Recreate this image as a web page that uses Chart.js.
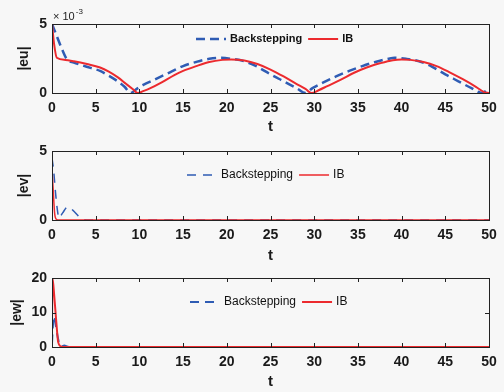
<!DOCTYPE html>
<html>
<head>
<meta charset="utf-8">
<script src="https://cdn.jsdelivr.net/npm/chart.js@4.4.0/dist/chart.umd.min.js"></script>
<style>
  html, body { margin: 0; padding: 0; background: #f7f7f7; }
  #wrap { position: relative; width: 504px; height: 392px; overflow: hidden; }
  canvas { position: absolute; left: 0; }
</style>
</head>
<body>
<div id="wrap">
  <canvas id="chartU" width="504" height="136" style="top:0px"></canvas>
  <canvas id="chartV" width="504" height="137" style="top:128px"></canvas>
  <canvas id="chartW" width="504" height="135" style="top:256px"></canvas>
</div>
<script>
// |eu| (x 10^-3)
const tEuBack = [0, 0.5, 1, 1.7, 2.5, 3.5, 4.5, 5.5, 6.5, 7.5, 8.3, 9, 9.7, 10.5, 11.5, 12.5, 13.5, 15, 16.5, 18, 19.2, 20.5, 22, 23.5, 25, 26.5, 28, 29, 29.8, 31, 32.5, 34, 35.5, 37, 38.5, 39.2, 40.5, 42, 43.5, 45, 46.5, 48, 49.2, 50];
const euBack  = [5.0, 4.2, 3.4, 2.45, 2.2, 2.0, 1.8, 1.6, 1.25, 0.85, 0.45, 0.0, 0.3, 0.6, 0.9, 1.2, 1.5, 1.95, 2.25, 2.48, 2.55, 2.48, 2.3, 1.9, 1.35, 0.85, 0.35, 0.0, 0.35, 0.75, 1.2, 1.6, 1.95, 2.25, 2.48, 2.55, 2.48, 2.3, 1.9, 1.35, 0.85, 0.35, 0.0, 0.35];
const tEuIB = [0, 0.25, 0.55, 1.5, 2.5, 4, 5.5, 6.5, 7.5, 8.5, 9.3, 9.8, 10.5, 11.2, 12.5, 14, 15, 16.5, 18, 19.5, 20.5, 22, 23.5, 25, 26.5, 28, 29, 29.7, 30.5, 31.5, 33, 34.5, 36, 37.5, 39, 40, 41, 42.5, 44, 45.5, 47, 48.5, 49.5, 50];
const euIB  = [5.0, 3.5, 2.55, 2.4, 2.3, 2.1, 1.85, 1.55, 1.15, 0.65, 0.25, 0.0, 0.15, 0.33, 0.75, 1.3, 1.6, 1.95, 2.25, 2.4, 2.43, 2.35, 2.1, 1.7, 1.2, 0.65, 0.3, 0.0, 0.2, 0.5, 0.95, 1.45, 1.85, 2.15, 2.38, 2.43, 2.4, 2.25, 1.95, 1.5, 1.0, 0.45, 0.05, 0.0];

// |ev|
const tEvBack = [0, 0.2, 0.4, 0.6, 0.8, 1.2, 1.8, 2.4, 3, 3.5, 4, 50];
const evBack  = [4.5, 3.5, 2.0, 0.8, 0.15, 0.5, 0.95, 0.7, 0.3, 0.05, 0, 0];
const tEvIB = [0, 0.15, 0.3, 0.5, 0.8, 50];
const evIB  = [3.7, 2.0, 0.5, 0.05, 0, 0];

// |ew|
const tEwBack = [0, 0.1, 0.25, 0.45, 0.65, 0.85, 1.1, 1.4, 1.8, 2.2, 50];
const ewBack  = [1, 6, 9, 6, 3, 0.8, 0.2, 0.4, 0.1, 0, 0];
const tEwIB = [0, 0.05, 0.25, 0.5, 0.7, 1.0, 1.5, 50];
const ewIB  = [6, 20, 15, 7, 1.5, 0.2, 0, 0];

const seriesNames = ['Backstepping', 'IB'];
const xTickStep = 5;

const pts = (t, v) => t.map((x, i) => ({ x: x, y: v[i] }));

const frameTicks = {
    id: 'frameTicks',
    afterDatasetsDraw(chart, args, opts) {
        const ctx = chart.ctx;
        const a = chart.chartArea;
        const xs = chart.scales.x, ys = chart.scales.y;
        ctx.save();
        ctx.strokeStyle = '#222';
        ctx.lineWidth = 1;
        ctx.setLineDash([]);
        ctx.strokeRect(Math.round(a.left) + 0.5, Math.round(a.top) + 0.5, Math.round(a.right - a.left), Math.round(a.bottom - a.top));
        ctx.beginPath();
        xs.ticks.forEach(t => {
            const px = Math.round(xs.getPixelForValue(t.value)) + 0.5;
            if (px <= a.left + 2 || px >= a.right - 2) return;
            ctx.moveTo(px, a.bottom); ctx.lineTo(px, a.bottom - 4);
            ctx.moveTo(px, a.top); ctx.lineTo(px, a.top + 4);
        });
        ys.ticks.forEach(t => {
            const py = Math.round(ys.getPixelForValue(t.value)) + 0.5;
            if (py <= a.top + 2 || py >= a.bottom - 2) return;
            ctx.moveTo(a.left, py); ctx.lineTo(a.left + 4, py);
            ctx.moveTo(a.right, py); ctx.lineTo(a.right - 4, py);
        });
        ctx.stroke();

        // legend inside the axes
        let x = opts.legendX;
        const y = opts.legendY;
        ctx.font = opts.legendFont;
        ctx.textBaseline = 'middle';
        ctx.fillStyle = '#111';
        chart.data.datasets.forEach(ds => {
            ctx.strokeStyle = ds.borderColor;
            ctx.lineWidth = ds.borderWidth;
            ctx.setLineDash(ds.borderDash || []);
            ctx.beginPath();
            ctx.moveTo(x, y); ctx.lineTo(x + 30, y);
            ctx.stroke();
            x += 34;
            ctx.fillText(ds.label, x, y);
            x += ctx.measureText(ds.label).width + 6;
        });

        if (opts.exponent) {
            ctx.fillStyle = '#222';
            ctx.textBaseline = 'alphabetic';
            ctx.font = '11px "Liberation Sans", Arial, sans-serif';
            const base = '\u00d7 10';
            ctx.fillText(base, a.left + 1, a.top - 4);
            const w = ctx.measureText(base).width;
            ctx.font = '8px "Liberation Sans", Arial, sans-serif';
            ctx.fillText('-3', a.left + 2 + w, a.top - 10);
        }
        ctx.restore();
    }
};

const makeChart = (id, title, data, yMax, yStep, p) => {
    const ctx = document.getElementById(id).getContext('2d');
    const h = document.getElementById(id).height;
    new Chart(ctx, {
        type: 'line',
        data: {
            datasets: [{
                label: seriesNames[0],
                data: data[0],
                borderColor: '#2f5cb4',
                borderWidth: p.blueWidth,
                borderDash: p.dash,
                pointRadius: 0,
                cubicInterpolationMode: 'monotone',
                order: 1
            }, {
                label: seriesNames[1],
                data: data[1],
                borderColor: '#ec2a2e',
                borderWidth: p.redWidth,
                pointRadius: 0,
                cubicInterpolationMode: 'monotone',
                order: 0
            }]
        },
        options: {
            responsive: false,
            animation: false,
            layout: { padding: { top: p.top, right: 15, left: 0, bottom: 0 } },
            plugins: {
                legend: { display: false },
                tooltip: { enabled: false },
                frameTicks: { legendX: p.legendX, legendY: p.legendY, legendFont: p.legendFont, exponent: p.exponent }
            },
            scales: {
                x: {
                    type: 'linear',
                    min: 0,
                    max: 50,
                    afterFit: s => { s.height = h - p.top - 69; },
                    ticks: { stepSize: xTickStep, padding: 7, color: '#1a1a1a', font: { family: '"Liberation Sans", Arial, sans-serif', size: 14, weight: 'bold' } },
                    grid: { display: false, drawTicks: false },
                    border: { display: false },
                    title: { display: true, text: 't', color: '#1a1a1a', padding: 0, font: { family: '"Liberation Sans", Arial, sans-serif', size: 15, weight: 'bold' } }
                },
                y: {
                    min: 0,
                    max: yMax,
                    afterFit: s => { s.width = 52; },
                    ticks: { stepSize: yStep, padding: 5, color: '#1a1a1a', font: { family: '"Liberation Sans", Arial, sans-serif', size: 14, weight: 'bold' } },
                    grid: { display: false, drawTicks: false },
                    border: { display: false },
                    title: { display: true, text: title, color: '#1a1a1a', padding: { top: p.yTitlePad, bottom: 0 }, font: { family: '"Liberation Sans", Arial, sans-serif', size: 14, weight: 'bold' } }
                }
            }
        },
        plugins: [frameTicks]
    });
};

makeChart('chartU', '|eu|', [pts(tEuBack, euBack), pts(tEuIB, euIB)], 5, 5,
    { top: 24, blueWidth: 2.5, redWidth: 2, dash: [9, 5], legendX: 196, legendY: 39, legendFont: 'bold 11px "Liberation Sans", Arial, sans-serif', exponent: true, yTitlePad: 16 });
makeChart('chartV', '|ev|', [pts(tEvBack, evBack), pts(tEvIB, evIB)], 5, 5,
    { top: 23, blueWidth: 1.5, redWidth: 1.5, dash: [9, 7], legendX: 187, legendY: 47, legendFont: '12px "Liberation Sans", Arial, sans-serif', exponent: false, yTitlePad: 16 });
makeChart('chartW', '|ew|', [pts(tEwBack, ewBack), pts(tEwIB, ewIB)], 20, 10,
    { top: 22, blueWidth: 2, redWidth: 2, dash: [9, 6], legendX: 190, legendY: 46, legendFont: '12px "Liberation Sans", Arial, sans-serif', exponent: false, yTitlePad: 9 });
</script>
</body>
</html>
